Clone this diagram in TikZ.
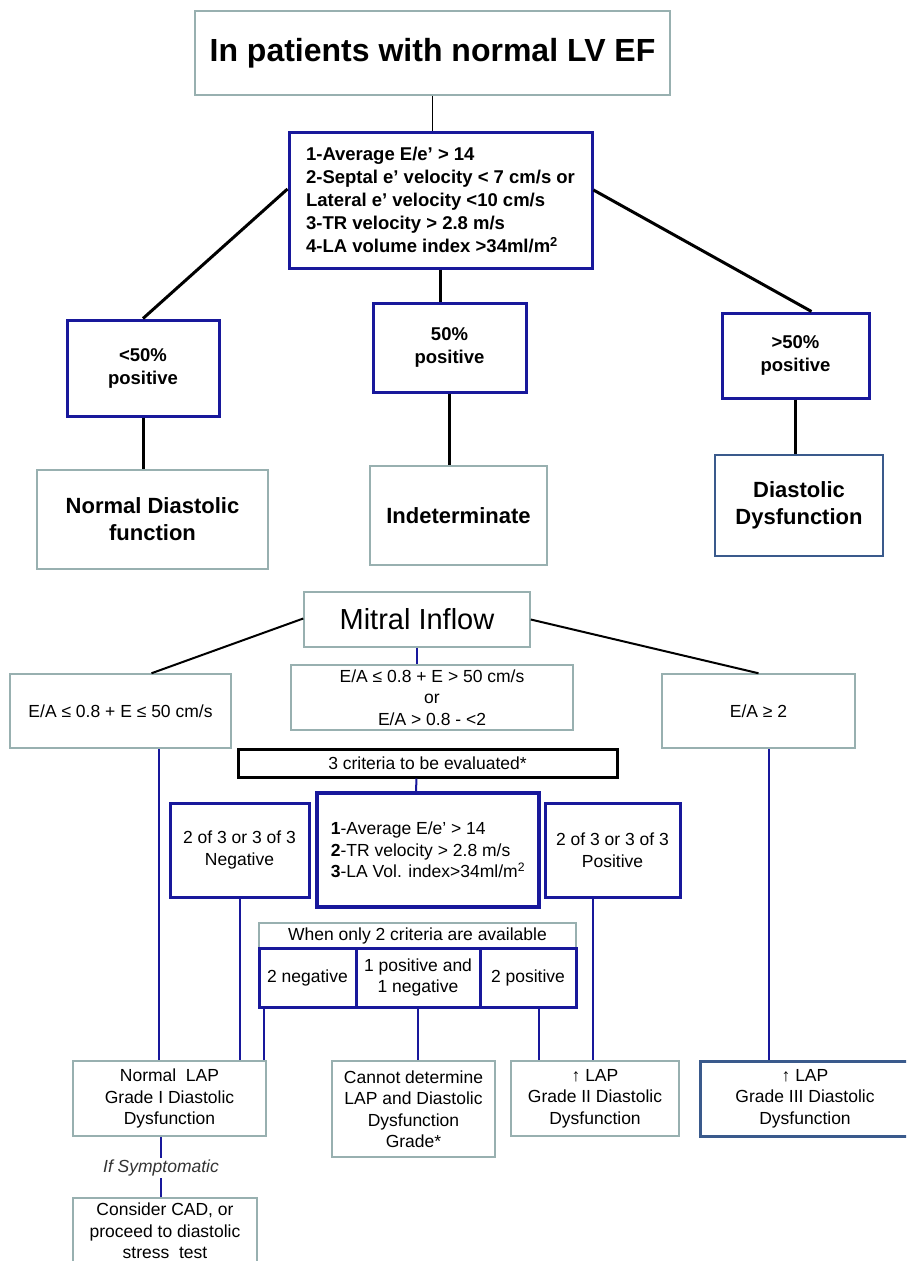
\documentclass[tikz,border=0pt]{standalone}
\usepackage{fontspec}
\setmainfont{Liberation Sans}
\definecolor{navy}{RGB}{24,24,155}
\definecolor{tealgrey}{RGB}{152,176,176}
\definecolor{steel}{RGB}{58,90,140}

\begin{document}
\begin{tikzpicture}[x=1pt,y=-1pt,
    greybox/.style={draw=tealgrey,line width=1.5pt,fill=white,align=center,inner sep=0pt},
    bluebox/.style={draw=navy,line width=3pt,fill=white,align=center,inner sep=0pt},
    steelbox/.style={draw=steel,line width=2.5pt,fill=white,align=center,inner sep=0pt},
    blackline/.style={line width=3pt},
    blueline/.style={draw=navy,line width=2pt},
    titlefont/.style={font=\fontsize{32}{38}\selectfont\bfseries},
    critfont/.style={font=\fontsize{18.5}{23}\selectfont\bfseries},
    resfont/.style={font=\fontsize{22}{27}\selectfont\bfseries},
    smallfont/.style={font=\fontsize{17.5}{21.5}\selectfont}]
      \path[fill=white,use as bounding box] (0,0) rectangle (906,1261);
      \clip (0,0) rectangle (906,1261);

      \node[greybox,titlefont,minimum width=475,minimum height=84] (title) at (432.5,53) {In patients with normal LV EF};
      \node[bluebox,critfont,align=left,minimum width=303,minimum height=136] (crit1) at (440.5,200)
        {1-Average E/e’ > 14\\2-Septal e’ velocity < 7 cm/s or\\Lateral e’ velocity <10 cm/s\\3-TR velocity > 2.8 m/s\\4-LA volume index >34ml/m\textsuperscript{2}};
      \node[bluebox,critfont,minimum width=152,minimum height=96] (lt50) at (143,368) {<50\%\\positive};
      \node[bluebox,critfont,minimum width=153,minimum height=89] (eq50) at (449.5,347.5) {50\%\\positive};
      \node[bluebox,critfont,minimum width=147,minimum height=85] (gt50) at (795.5,355.5) {>50\%\\positive};
      \node[greybox,resfont,minimum width=231,minimum height=99] (normal) at (152.5,519.5) {Normal Diastolic\\function};
      \node[greybox,resfont,minimum width=177,minimum height=99] (indet) at (458.5,515.5) {Indeterminate};
      \node[steelbox,resfont,minimum width=168,minimum height=101] (dysf) at (799,505.5) {Diastolic\\Dysfunction};

      \draw[line width=1.5pt] (title.south) -- (title.south |- crit1.north);
      \draw[blackline] ([yshift=11]crit1.west) -- (lt50.north);
      \draw[blackline] ([yshift=10]crit1.east) -- ([xshift=16]gt50.north);
      \draw[blackline] (crit1.south) -- (crit1.south |- eq50.north);
      \draw[blackline] (lt50.south) -- (lt50.south |- normal.north);
      \draw[blackline] (eq50.south) -- (eq50.south |- indet.north);
      \draw[blackline] (gt50.south) -- (gt50.south |- dysf.north);

      \node[greybox,font=\fontsize{29}{34}\selectfont,minimum width=226,minimum height=55] (mitral) at (417,619.5) {Mitral Inflow};
      \node[greybox,smallfont,minimum width=221,minimum height=74] (ealow) at (120.5,711) {E/A ≤ 0.8 + E ≤ 50 cm/s};
      \node[greybox,smallfont,minimum width=282,minimum height=65] (eamid) at (432,697.5) {E/A ≤ 0.8 + E > 50 cm/s\\or\\E/A > 0.8 - <2};
      \node[greybox,smallfont,minimum width=193,minimum height=74] (eahigh) at (758.5,711) {E/A ≥ 2};
      \node[draw,line width=3pt,fill=white,smallfont,inner sep=0pt,minimum width=379,minimum height=28] (crit3) at (427.5,763) {3 criteria to be evaluated*};
      \node[bluebox,smallfont,align=left,line width=3.5pt,minimum width=222,minimum height=114] (crit2) at (428,850)
        {\textbf{1}-Average E/e’ > 14\\\textbf{2}-TR velocity > 2.8 m/s\\\textbf{3}-LA Vol. index>34ml/m\textsuperscript{2}};
      \node[bluebox,smallfont,minimum width=139,minimum height=94] (neg) at (239.5,850) {2 of 3 or 3 of 3\\Negative};
      \node[bluebox,smallfont,minimum width=135,minimum height=94] (pos) at (612.5,850) {2 of 3 or 3 of 3\\Positive};
      \node[greybox,smallfont,minimum width=317,minimum height=25] (only2) at (417.5,935.5) {When only 2 criteria are available};
      \node[bluebox,smallfont,minimum width=97,minimum height=59] (neg2) at (307.5,977.5) {2 negative};
      \node[bluebox,smallfont,minimum width=124,minimum height=59] (posneg) at (418,977.5) {1 positive and\\1 negative};
      \node[bluebox,smallfont,minimum width=96,minimum height=59] (pos2) at (528,977.5) {2 positive};
      \node[greybox,smallfont,minimum width=193,minimum height=75] (nlap) at (169.5,1098.5) {Normal~ LAP\\Grade I Diastolic\\Dysfunction};
      \node[greybox,smallfont,minimum width=163,minimum height=96] (cannot) at (413.5,1109) {Cannot determine\\LAP and Diastolic\\Dysfunction\\Grade*};
      \node[greybox,smallfont,minimum width=168,minimum height=75] (g2) at (595,1098.5) {↑ LAP\\Grade II Diastolic\\Dysfunction};
      \node[steelbox,smallfont,line width=3pt,minimum width=210,minimum height=75] (g3) at (805,1098.5) {↑ LAP\\Grade III Diastolic\\Dysfunction};
      \node[font=\fontsize{17.5}{20}\selectfont\itshape,text=black!80,inner sep=2pt] (symp) at (161,1168) {If Symptomatic};
      \node[greybox,smallfont,minimum width=184,minimum height=66] (cad) at (165,1231) {Consider CAD, or\\proceed to diastolic\\stress~ test};

      \draw[line width=2pt] ([yshift=1]mitral.west) -- ([xshift=31]ealow.north);
      \draw[line width=2pt] (mitral.east) -- (eahigh.north);
      \draw[blueline] (mitral.south) -- (mitral.south |- eamid.north);
      \draw[blueline] ([xshift=38]ealow.south) -- ([xshift=-11]nlap.north);
      \draw[blueline] ([xshift=10.5]eahigh.south) -- ([xshift=-36]g3.north);
      \draw[blueline] ([xshift=-11]crit3.south) -- ([xshift=-12]crit2.north);
      \draw[blueline] (neg.south) -- (neg.south |- nlap.north);
      \draw[blueline] ([xshift=-20]pos.south) -- ([xshift=-2.5]g2.north);
      \draw[blueline] ([xshift=-44]neg2.south) -- ([xshift=94]nlap.north);
      \draw[blueline] (posneg.south) -- (posneg.south |- cannot.north);
      \draw[blueline] ([xshift=11]pos2.south) -- ([xshift=-56]g2.north);
      \draw[blueline] (symp.north |- nlap.south) -- (symp.north);
      \draw[blueline] (symp.south) -- (symp.south |- cad.north);
    \end{tikzpicture}
\end{document}
